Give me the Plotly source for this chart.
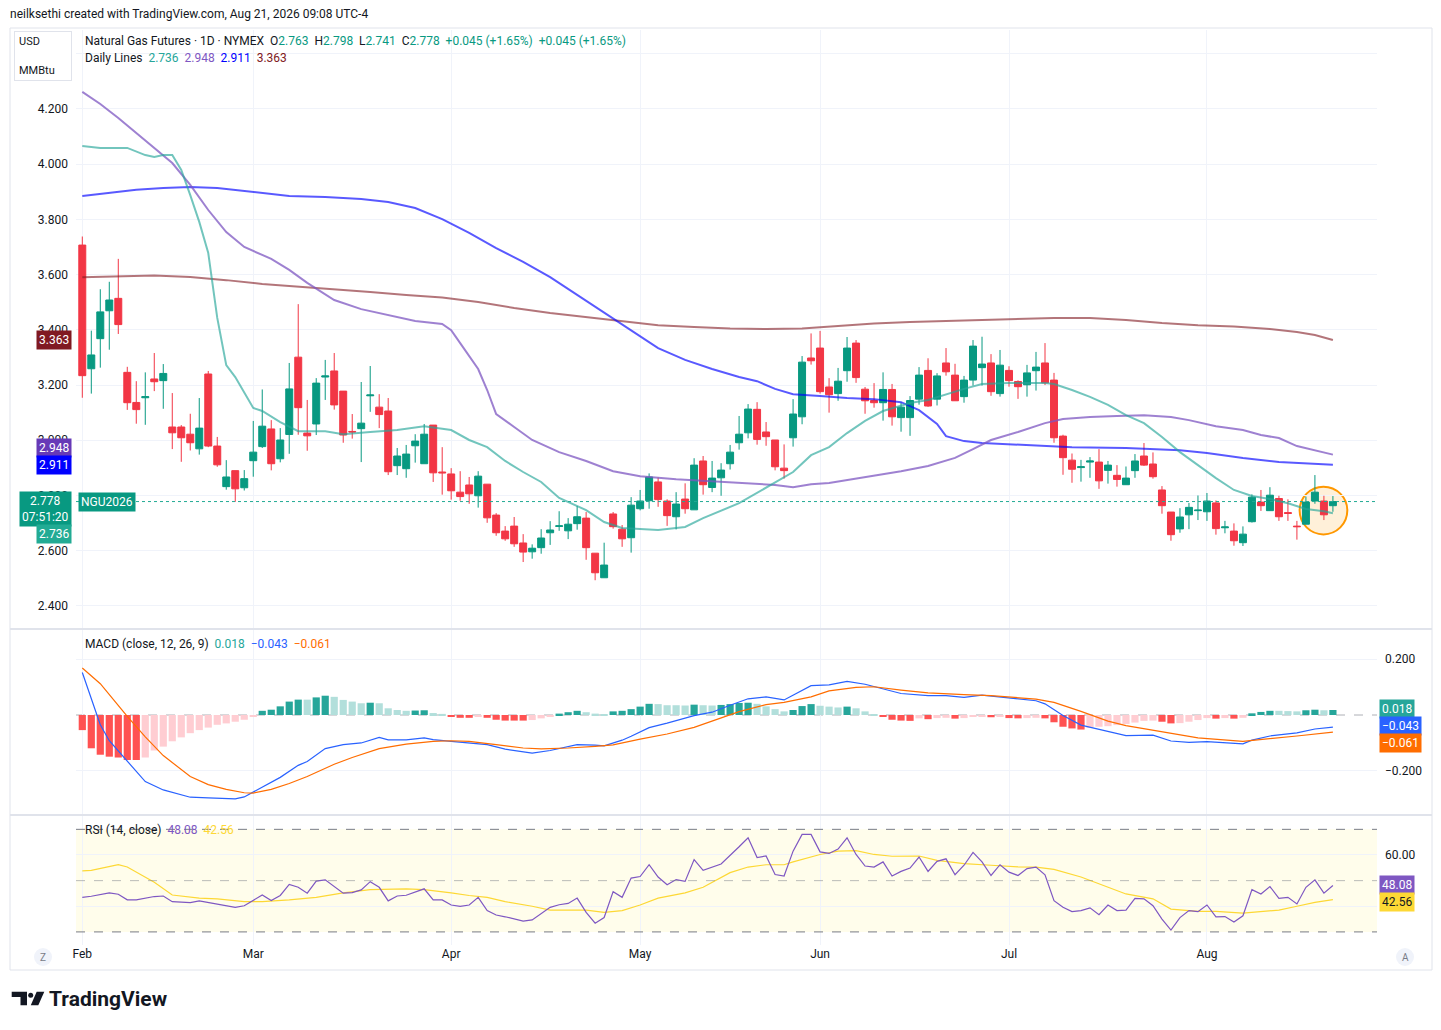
# Natural Gas Futures (NGU2026) daily chart with MAs, MACD and RSI, TradingView style
import plotly.graph_objects as go
import pandas as pd

# Trading days shown (weekends and NYMEX holidays skipped)
holidays = ["2026-02-16", "2026-04-03", "2026-05-25", "2026-06-19", "2026-07-03"]
dates = [d.strftime("%Y-%m-%d") for d in pd.bdate_range("2026-02-02", "2026-08-21", freq="C", holidays=holidays)]

month_ticks = ["2026-02-02", "2026-03-02", "2026-04-01", "2026-05-01", "2026-06-01", "2026-07-01", "2026-08-03"]
month_labels = ["Feb", "Mar", "Apr", "May", "Jun", "Jul", "Aug"]

# OHLC
opens = [3.707, 3.259, 3.368, 3.469, 3.514, 3.246, 3.137, 3.154, 3.222, 3.216,
         3.048, 3.048, 3.022, 2.969, 3.240, 2.979, 2.832, 2.890, 2.828, 2.926,
         2.977, 3.041, 2.933, 3.021, 3.301, 3.026, 3.059, 3.229, 3.251, 3.178,
         3.032, 3.042, 3.161, 3.120, 3.106, 2.908, 2.897, 2.980, 2.915, 3.055,
         2.885, 2.878, 2.812, 2.838, 2.799, 2.841, 2.729, 2.671, 2.689, 2.628,
         2.596, 2.611, 2.665, 2.688, 2.672, 2.698, 2.718, 2.591, 2.502, 2.733,
         2.678, 2.647, 2.752, 2.781, 2.849, 2.780, 2.723, 2.787, 2.748, 2.925,
         2.829, 2.864, 2.915, 2.991, 3.027, 3.112, 3.030, 3.001, 2.899, 3.009,
         3.085, 3.298, 3.334, 3.193, 3.169, 3.252, 3.352, 3.185, 3.144, 3.136,
         3.184, 3.082, 3.082, 3.149, 3.253, 3.149, 3.280, 3.236, 3.158, 3.218,
         3.263, 3.280, 3.169, 3.253, 3.213, 3.201, 3.252, 3.280, 3.218, 3.015,
         2.928, 2.901, 2.921, 2.921, 2.891, 2.873, 2.839, 2.890, 2.943, 2.914,
         2.820, 2.740, 2.679, 2.730, 2.745, 2.741, 2.773, 2.683, 2.671, 2.629,
         2.705, 2.776, 2.745, 2.789, 2.738, 2.689, 2.696, 2.780, 2.780, 2.763]
highs = [3.738, 3.397, 3.547, 3.574, 3.657, 3.266, 3.214, 3.246, 3.316, 3.276,
         3.171, 3.055, 3.096, 3.153, 3.251, 3.012, 2.928, 2.890, 2.892, 3.070,
         3.184, 3.073, 3.044, 3.280, 3.493, 3.146, 3.225, 3.291, 3.316, 3.178,
         3.095, 3.211, 3.269, 3.167, 3.153, 2.972, 2.983, 3.022, 3.059, 3.055,
         2.975, 2.899, 2.888, 2.867, 2.888, 2.841, 2.736, 2.689, 2.722, 2.660,
         2.623, 2.678, 2.707, 2.743, 2.718, 2.762, 2.740, 2.591, 2.629, 2.740,
         2.693, 2.794, 2.820, 2.880, 2.865, 2.786, 2.812, 2.844, 2.935, 2.943,
         2.925, 2.917, 2.983, 3.088, 3.131, 3.138, 3.066, 3.001, 2.985, 3.149,
         3.305, 3.387, 3.396, 3.225, 3.262, 3.374, 3.363, 3.193, 3.207, 3.246,
         3.204, 3.137, 3.160, 3.265, 3.297, 3.243, 3.334, 3.277, 3.233, 3.363,
         3.375, 3.312, 3.327, 3.268, 3.217, 3.273, 3.320, 3.352, 3.244, 3.020,
         2.952, 2.929, 2.939, 2.968, 2.925, 2.910, 2.905, 2.950, 2.990, 2.956,
         2.834, 2.740, 2.754, 2.773, 2.800, 2.809, 2.782, 2.708, 2.699, 2.688,
         2.804, 2.820, 2.830, 2.799, 2.786, 2.708, 2.796, 2.874, 2.799, 2.798]
lows = [3.154, 3.169, 3.263, 3.328, 3.385, 3.110, 3.060, 3.056, 3.178, 3.114,
        2.968, 2.922, 2.963, 2.948, 2.975, 2.904, 2.821, 2.777, 2.818, 2.868,
        2.972, 2.891, 2.920, 2.951, 3.020, 2.962, 3.019, 3.146, 3.111, 2.991,
        3.006, 2.921, 3.103, 3.044, 2.874, 2.874, 2.864, 2.919, 2.915, 2.849,
        2.803, 2.785, 2.781, 2.770, 2.756, 2.701, 2.654, 2.636, 2.614, 2.559,
        2.571, 2.589, 2.621, 2.672, 2.642, 2.676, 2.567, 2.493, 2.502, 2.680,
        2.614, 2.593, 2.746, 2.752, 2.759, 2.690, 2.677, 2.734, 2.748, 2.803,
        2.812, 2.799, 2.894, 2.966, 3.007, 2.984, 2.980, 2.891, 2.861, 2.977,
        3.058, 3.274, 3.169, 3.100, 3.143, 3.212, 3.208, 3.096, 3.118, 3.071,
        3.053, 3.031, 3.016, 3.129, 3.121, 3.126, 3.234, 3.143, 3.136, 3.198,
        3.198, 3.161, 3.158, 3.194, 3.150, 3.158, 3.180, 3.200, 2.991, 2.875,
        2.846, 2.850, 2.864, 2.824, 2.843, 2.832, 2.839, 2.864, 2.907, 2.861,
        2.734, 2.636, 2.665, 2.678, 2.711, 2.708, 2.658, 2.663, 2.618, 2.617,
        2.702, 2.744, 2.744, 2.708, 2.708, 2.640, 2.696, 2.770, 2.711, 2.741]
closes = [3.234, 3.309, 3.465, 3.508, 3.419, 3.136, 3.111, 3.158, 3.212, 3.242,
          3.027, 3.009, 2.991, 3.044, 2.979, 2.911, 2.867, 2.824, 2.861, 2.957,
          3.051, 2.915, 3.001, 3.186, 3.118, 3.016, 3.207, 3.233, 3.128, 3.019,
          3.030, 3.062, 3.164, 3.093, 2.886, 2.943, 2.950, 2.997, 3.022, 2.882,
          2.882, 2.817, 2.796, 2.806, 2.870, 2.719, 2.665, 2.643, 2.625, 2.595,
          2.609, 2.646, 2.675, 2.690, 2.696, 2.723, 2.611, 2.520, 2.548, 2.687,
          2.643, 2.765, 2.780, 2.867, 2.785, 2.727, 2.769, 2.752, 2.910, 2.839,
          2.863, 2.892, 2.957, 3.022, 3.113, 3.003, 3.013, 2.904, 2.890, 3.095,
          3.283, 3.288, 3.176, 3.165, 3.214, 3.334, 3.227, 3.143, 3.136, 3.184,
          3.085, 3.120, 3.144, 3.236, 3.124, 3.233, 3.248, 3.143, 3.218, 3.341,
          3.276, 3.176, 3.272, 3.216, 3.194, 3.244, 3.265, 3.208, 3.009, 2.937,
          2.895, 2.904, 2.925, 2.853, 2.910, 2.858, 2.863, 2.925, 2.910, 2.868,
          2.763, 2.658, 2.722, 2.757, 2.747, 2.780, 2.680, 2.686, 2.636, 2.660,
          2.794, 2.763, 2.801, 2.723, 2.735, 2.687, 2.776, 2.812, 2.730, 2.778]

# Daily moving-average lines (bar index -> value)
ma_fast_at = [0, 2, 5, 7, 8, 9, 10, 11, 12, 13, 14, 15, 16, 17, 19, 20, 22, 24, 27, 29, 32, 35, 38, 41,
              43, 45, 47, 49, 51, 53, 56, 58, 60, 62, 64, 67, 69, 73, 75, 77, 79, 81, 83, 85, 87, 89,
              92, 94, 96, 98, 100, 103, 107, 108, 110, 112, 114, 116, 118, 120, 122, 124, 126, 128,
              130, 132, 134, 136, 138, 139]
ma_fast = [4.066, 4.059, 4.059, 4.033, 4.026, 4.033, 4.033, 3.979, 3.888, 3.791, 3.678, 3.443, 3.272,
           3.229, 3.117, 3.106, 3.066, 3.033, 3.033, 3.022, 3.030, 3.037, 3.051, 3.037, 3.001, 2.975,
           2.925, 2.885, 2.849, 2.791, 2.747, 2.704, 2.682, 2.678, 2.675, 2.686, 2.718, 2.772, 2.809,
           2.845, 2.885, 2.946, 2.975, 3.026, 3.070, 3.106, 3.135, 3.146, 3.167, 3.186, 3.204, 3.207,
           3.207, 3.204, 3.182, 3.157, 3.128, 3.091, 3.062, 3.012, 2.957, 2.910, 2.863, 2.820, 2.798,
           2.787, 2.772, 2.751, 2.743, 2.736]
ma_mid_at = [0, 2, 4, 6, 8, 10, 12, 14, 16, 18, 21, 23, 25, 28, 31, 34, 37, 40, 41, 42, 44, 45, 46, 48,
             50, 53, 56, 59, 62, 66, 70, 73, 77, 79, 81, 83, 85, 88, 91, 94, 97, 99, 101, 104, 107,
             109, 112, 115, 118, 121, 123, 126, 129, 131, 133, 135, 137, 139]
ma_mid = [4.262, 4.218, 4.167, 4.113, 4.059, 4.004, 3.925, 3.834, 3.754, 3.700, 3.657, 3.617, 3.570,
          3.508, 3.475, 3.454, 3.432, 3.421, 3.399, 3.352, 3.258, 3.182, 3.095, 3.048, 3.001, 2.957,
          2.925, 2.888, 2.870, 2.859, 2.852, 2.845, 2.838, 2.830, 2.841, 2.845, 2.856, 2.870, 2.888,
          2.907, 2.936, 2.968, 3.001, 3.030, 3.062, 3.077, 3.084, 3.088, 3.091, 3.084, 3.073, 3.051,
          3.037, 3.019, 3.008, 2.979, 2.964, 2.948]
ma_slow_at = [0, 3, 6, 9, 12, 15, 19, 23, 27, 31, 34, 37, 40, 43, 46, 49, 52, 55, 58, 61, 64, 67, 70,
              73, 75, 77, 79, 82, 85, 88, 91, 93, 95, 96, 98, 100, 104, 110, 116, 122, 125, 129, 133,
              137, 139]
ma_slow = [3.885, 3.896, 3.907, 3.914, 3.917, 3.914, 3.899, 3.885, 3.881, 3.874, 3.863, 3.841, 3.801,
           3.751, 3.696, 3.646, 3.591, 3.526, 3.464, 3.399, 3.334, 3.291, 3.258, 3.229, 3.214, 3.186,
           3.167, 3.160, 3.153, 3.149, 3.138, 3.109, 3.059, 3.015, 2.997, 2.990, 2.983, 2.975, 2.972,
           2.964, 2.954, 2.936, 2.921, 2.914, 2.911]
ma_long_at = [0, 4, 8, 12, 16, 20, 24, 28, 32, 36, 40, 44, 48, 52, 56, 60, 64, 68, 72, 76, 80, 84, 88,
              92, 96, 100, 104, 108, 112, 116, 120, 124, 128, 132, 135, 137, 139]
ma_long = [3.590, 3.593, 3.597, 3.591, 3.580, 3.566, 3.557, 3.548, 3.537, 3.526, 3.517, 3.501, 3.479,
           3.461, 3.446, 3.432, 3.417, 3.410, 3.405, 3.403, 3.405, 3.414, 3.423, 3.428, 3.432, 3.436,
           3.439, 3.443, 3.443, 3.436, 3.425, 3.417, 3.412, 3.403, 3.392, 3.381, 3.363]

# MACD (12, 26, 9)
macd_hist = [-0.054, -0.119, -0.142, -0.149, -0.152, -0.161, -0.161, -0.152, -0.127, -0.113,
             -0.094, -0.080, -0.065, -0.054, -0.045, -0.035, -0.030, -0.024, -0.017, -0.005,
             0.015, 0.019, 0.031, 0.048, 0.055, 0.055, 0.063, 0.069, 0.065, 0.054,
             0.048, 0.042, 0.044, 0.042, 0.024, 0.018, 0.015, 0.016, 0.017, 0.007,
             0.004, -0.006, -0.010, -0.010, -0.005, -0.010, -0.017, -0.020, -0.020, -0.020,
             -0.018, -0.012, -0.006, 0.005, 0.010, 0.015, 0.010, 0.005, 0.002, 0.013,
             0.015, 0.021, 0.030, 0.040, 0.039, 0.035, 0.035, 0.034, 0.037, 0.035,
             0.034, 0.036, 0.039, 0.043, 0.044, 0.040, 0.031, 0.021, 0.013, 0.018,
             0.032, 0.039, 0.033, 0.030, 0.027, 0.030, 0.024, 0.013, 0.002, -0.006,
             -0.017, -0.020, -0.021, -0.012, -0.015, -0.011, -0.010, -0.013, -0.011, -0.007,
             -0.004, -0.008, -0.007, -0.011, -0.012, -0.011, -0.010, -0.012, -0.026, -0.042,
             -0.048, -0.052, -0.046, -0.042, -0.040, -0.036, -0.032, -0.027, -0.021, -0.020,
             -0.024, -0.030, -0.029, -0.024, -0.018, -0.011, -0.013, -0.011, -0.013, -0.010,
             0.006, 0.011, 0.015, 0.015, 0.014, 0.013, 0.017, 0.019, 0.017, 0.018]
macd_at = [0, 1, 2, 3, 5, 6, 7, 9, 12, 14, 17, 18, 19, 21, 22, 24, 25, 27, 29, 31, 33, 34, 36, 38, 39,
           41, 43, 45, 47, 50, 52, 55, 57, 58, 60, 61, 63, 65, 68, 70, 72, 74, 76, 78, 81, 83, 85, 87,
           91, 94, 96, 98, 100, 103, 106, 107, 108, 109, 111, 114, 116, 119, 121, 123, 125, 129, 130,
           132, 135, 137, 139]
macd_line = [0.152, 0.060, -0.035, -0.092, -0.165, -0.199, -0.238, -0.268, -0.294, -0.296, -0.300,
             -0.293, -0.276, -0.240, -0.223, -0.180, -0.166, -0.120, -0.106, -0.100, -0.080, -0.089,
             -0.089, -0.082, -0.088, -0.094, -0.100, -0.106, -0.122, -0.136, -0.127, -0.106, -0.108,
             -0.110, -0.090, -0.076, -0.045, -0.029, -0.002, 0.010, 0.035, 0.058, 0.065, 0.054, 0.105,
             0.108, 0.120, 0.110, 0.077, 0.069, 0.069, 0.063, 0.071, 0.061, 0.051, 0.040, 0.020,
             -0.002, -0.036, -0.058, -0.074, -0.072, -0.093, -0.098, -0.095, -0.103, -0.090, -0.075,
             -0.064, -0.050, -0.043]
signal_at = [0, 2, 5, 7, 9, 12, 14, 16, 18, 19, 21, 23, 25, 28, 30, 33, 36, 39, 41, 43, 46, 49, 51, 54,
             57, 59, 62, 65, 68, 71, 73, 76, 78, 81, 83, 86, 88, 91, 94, 98, 101, 106, 108, 111, 114,
             116, 119, 124, 129, 131, 135, 139]
signal_line = [0.168, 0.112, -0.005, -0.078, -0.145, -0.220, -0.249, -0.266, -0.278, -0.279, -0.266,
               -0.245, -0.220, -0.176, -0.152, -0.120, -0.104, -0.094, -0.092, -0.094, -0.106, -0.118,
               -0.121, -0.118, -0.112, -0.107, -0.086, -0.068, -0.044, -0.012, 0.012, 0.037, 0.045,
               0.065, 0.086, 0.099, 0.101, 0.089, 0.079, 0.073, 0.069, 0.057, 0.045, 0.013, -0.022,
               -0.038, -0.054, -0.082, -0.094, -0.088, -0.075, -0.061]

# RSI (14) and its moving average
rsi_at = [0, 1, 3, 4, 5, 6, 8, 9, 10, 12, 13, 15, 17, 18, 19, 20, 21, 22, 23, 24, 25, 26, 27, 28, 29,
          30, 31, 32, 33, 34, 35, 36, 37, 38, 39, 40, 41, 42, 43, 44, 45, 46, 47, 48, 49, 50, 51, 52,
          53, 54, 55, 56, 57, 58, 59, 60, 61, 62, 63, 64, 65, 66, 67, 68, 69, 70, 71, 73, 74, 75, 76,
          77, 78, 79, 80, 81, 82, 83, 84, 85, 86, 87, 88, 89, 90, 91, 92, 93, 94, 95, 96, 97, 98, 99,
          100, 101, 102, 103, 104, 105, 106, 107, 108, 109, 110, 111, 112, 113, 114, 115, 116, 117,
          118, 119, 120, 121, 122, 123, 124, 125, 126, 127, 128, 129, 130, 131, 132, 133, 134, 135,
          136, 137, 138, 139]
rsi = [43.5, 43.9, 45.2, 44.7, 42.5, 42.5, 43.8, 44.0, 41.8, 41.4, 42.1, 40.9, 39.6, 40.2, 42.2, 44.4,
       42.2, 44.2, 48.5, 47.4, 45.1, 49.8, 50.3, 47.8, 45.1, 45.3, 46.4, 49.6, 47.4, 42.1, 44.0, 44.3,
       45.7, 46.8, 42.5, 42.5, 40.5, 40.0, 40.5, 43.5, 38.3, 36.6, 35.9, 35.0, 34.2, 34.7, 37.3, 39.6,
       40.6, 41.1, 43.2, 37.6, 33.4, 35.6, 45.7, 43.5, 51.0, 51.6, 56.2, 51.4, 48.4, 50.4, 49.7, 58.2,
       54.0, 55.1, 56.5, 63.2, 66.7, 59.0, 59.6, 52.4, 51.8, 61.5, 68.0, 68.0, 61.2, 60.6, 62.3, 66.7,
       60.2, 55.7, 55.3, 57.3, 51.8, 53.6, 54.9, 59.2, 53.6, 57.5, 58.5, 52.3, 56.0, 61.0, 57.3, 52.0,
       56.2, 53.3, 52.0, 54.7, 55.3, 52.3, 42.2, 39.6, 37.9, 38.3, 39.4, 36.7, 40.5, 38.3, 38.5, 43.1,
       42.9, 40.2, 35.0, 30.7, 35.6, 38.3, 37.9, 40.5, 35.9, 36.0, 33.9, 36.3, 46.5, 44.8, 47.7, 43.1,
       43.5, 40.9, 47.4, 50.3, 45.1, 48.08]
rsi_ma_at = [0, 1, 4, 5, 8, 10, 13, 15, 18, 20, 23, 26, 29, 32, 36, 38, 41, 43, 45, 47, 50, 52, 56, 58,
             60, 62, 64, 67, 69, 71, 72, 74, 76, 78, 79, 82, 84, 86, 88, 90, 93, 95, 98, 101, 104, 106,
             108, 111, 114, 116, 119, 121, 124, 126, 129, 133, 135, 137, 139]
rsi_ma = [53.8, 54.0, 56.2, 55.3, 49.4, 44.4, 43.2, 42.9, 41.8, 41.8, 42.5, 43.5, 45.2, 46.5, 46.8, 46.5,
          45.2, 44.2, 43.5, 41.8, 40.0, 38.5, 38.5, 37.6, 38.3, 40.5, 43.2, 45.2, 47.4, 51.0, 53.1, 55.3,
          56.2, 56.2, 57.3, 60.2, 61.5, 61.7, 60.2, 59.5, 59.6, 57.9, 56.6, 56.0, 55.4, 55.3, 54.4, 51.4,
          47.4, 44.8, 42.9, 38.9, 38.0, 38.0, 37.3, 38.5, 40.0, 41.5, 42.56]

# ---- colours / fonts
GREEN = "#089981"
RED = "#f23645"
TEXT = "#131722"
GRID = "#f0f3fa"
BORDER = "#e0e3eb"
FONT = "Roboto"
C_FAST, C_MID, C_SLOW, C_LONG = "rgba(38,166,154,0.65)", "rgba(126,87,194,0.75)", "rgba(0,0,255,0.65)", "rgba(128,25,34,0.6)"
C_MACD, C_SIG = "#2962ff", "#ff6d00"
C_RSI, C_RSI_MA = "#7e57c2", "#fdd835"

# pixel -> paper helpers for the 1441x1030 canvas (plot area 76..1377 x 30..945)
def px(x):
    return (x - 76) / 1301

def py(y):
    return (945 - y) / 915

def pick(at):
    return [dates[i] for i in at]

# histogram colours (TradingView rule: growing/falling above/below zero)
hist_colors = []
prev = 0.02
for h in macd_hist:
    if h >= 0:
        hist_colors.append("#26a69a" if h > prev else "#b2dfdb")
    else:
        hist_colors.append("#ffcdd2" if h > prev else "#ff5252")
    prev = h

fig = go.Figure()

fig.add_trace(go.Candlestick(
    x=dates, open=opens, high=highs, low=lows, close=closes,
    increasing=dict(line=dict(color=GREEN, width=1), fillcolor=GREEN),
    decreasing=dict(line=dict(color=RED, width=1), fillcolor=RED),
    whiskerwidth=0, xaxis="x", yaxis="y", showlegend=False, hoverinfo="skip"))
for at, vals, col in [(ma_long_at, ma_long, C_LONG), (ma_slow_at, ma_slow, C_SLOW),
                      (ma_mid_at, ma_mid, C_MID), (ma_fast_at, ma_fast, C_FAST)]:
    fig.add_trace(go.Scatter(x=pick(at), y=vals, mode="lines", line=dict(color=col, width=2),
                             xaxis="x", yaxis="y", showlegend=False, hoverinfo="skip"))

fig.add_trace(go.Bar(x=dates, y=macd_hist, marker=dict(color=hist_colors, line=dict(width=0)),
                     xaxis="x2", yaxis="y2", showlegend=False, hoverinfo="skip"))
fig.add_trace(go.Scatter(x=pick(macd_at), y=macd_line, mode="lines", line=dict(color=C_MACD, width=1.2),
                         xaxis="x2", yaxis="y2", showlegend=False, hoverinfo="skip"))
fig.add_trace(go.Scatter(x=pick(signal_at), y=signal_line, mode="lines", line=dict(color=C_SIG, width=1.2),
                         xaxis="x2", yaxis="y2", showlegend=False, hoverinfo="skip"))

fig.add_trace(go.Scatter(x=pick(rsi_ma_at), y=rsi_ma, mode="lines", line=dict(color=C_RSI_MA, width=1.2),
                         xaxis="x3", yaxis="y3", showlegend=False, hoverinfo="skip"))
fig.add_trace(go.Scatter(x=pick(rsi_at), y=rsi, mode="lines", line=dict(color=C_RSI, width=1.2),
                         xaxis="x3", yaxis="y3", showlegend=False, hoverinfo="skip"))

xcommon = dict(type="category", categoryorder="array", categoryarray=dates,
               tickvals=month_ticks, ticktext=month_labels, showgrid=True, gridcolor=GRID,
               zeroline=False, showline=False, ticks="", fixedrange=True)
ycommon = dict(showgrid=True, gridcolor=GRID, zeroline=False, showline=False, ticks="",
               tickfont=dict(family=FONT, size=12, color=TEXT), ticklabelstandoff=7)

fig.update_layout(
    width=1441, height=1030,
    margin=dict(l=76, r=64, t=30, b=85),
    paper_bgcolor="white", plot_bgcolor="white",
    font=dict(family=FONT, size=12, color=TEXT),
    boxgap=0.12, boxgroupgap=0.12, bargap=0.2,
    showlegend=False, hovermode=False,
    xaxis=dict(xcommon, anchor="y", range=[-0.7, 143.9], showticklabels=False,
               rangeslider=dict(visible=False)),
    xaxis2=dict(xcommon, anchor="y2", matches="x", showticklabels=False),
    xaxis3=dict(xcommon, anchor="y3", matches="x", showticklabels=True,
                tickfont=dict(family=FONT, size=12, color=TEXT)),
    yaxis=dict(ycommon, domain=[py(628), 1], range=[2.32, 4.486], side="left",
               dtick=0.2, tick0=0, tickformat=".3f", anchor="x"),
    yaxis2=dict(ycommon, domain=[py(814), py(630)], range=[-0.354, 0.304], side="right",
                tickvals=[-0.2, 0.2], tickformat=".3f", anchor="x2"),
    yaxis3=dict(ycommon, domain=[0, py(816)], range=[24.9, 75.2], side="right",
                tickvals=[40, 60], ticktext=["", "60.00"], anchor="x3"),
)

shapes = [
    # outer frame and pane separators
    dict(type="rect", xref="paper", yref="paper", x0=px(10), x1=px(1432), y0=py(970), y1=py(28),
         line=dict(color=BORDER, width=1)),
    dict(type="line", xref="paper", yref="paper", x0=px(10), x1=px(1432), y0=py(629), y1=py(629),
         line=dict(color=BORDER, width=2)),
    dict(type="line", xref="paper", yref="paper", x0=px(10), x1=px(1432), y0=py(815), y1=py(815),
         line=dict(color=BORDER, width=2)),
    # last price line
    dict(type="line", xref="paper", yref="y", x0=0, x1=1, y0=closes[-1], y1=closes[-1],
         line=dict(color="#22ab94", width=1, dash="dot")),
    # highlight circle around the last sessions
    dict(type="circle", xref="x", yref="y", x0=135.3, x1=140.6, y0=2.659, y1=2.832, layer="below",
         line=dict(color="#ff9800", width=2), fillcolor="rgba(255,152,0,0.15)"),
    # MACD zero line
    dict(type="line", xref="paper", yref="y2", x0=0, x1=1, y0=0, y1=0, layer="below",
         line=dict(color="rgba(120,123,134,0.6)", width=1, dash="dash")),
    # RSI band and levels
    dict(type="rect", xref="paper", yref="y3", x0=0, x1=1, y0=30, y1=70, layer="below",
         fillcolor="rgba(255,235,59,0.1)", line=dict(width=0)),
    dict(type="line", xref="paper", yref="y3", x0=0, x1=1, y0=70, y1=70,
         line=dict(color="#787b86", width=1, dash="dash")),
    dict(type="line", xref="paper", yref="y3", x0=0, x1=1, y0=50, y1=50,
         line=dict(color="rgba(120,123,134,0.5)", width=1, dash="dash")),
    dict(type="line", xref="paper", yref="y3", x0=0, x1=1, y0=30, y1=30,
         line=dict(color="#787b86", width=1, dash="dash")),
    # small round buttons at the time axis ends
    dict(type="circle", xref="paper", yref="paper", x0=px(34), x1=px(52), y0=py(966), y1=py(948),
         fillcolor="#f0f3fa", line=dict(width=0)),
    dict(type="circle", xref="paper", yref="paper", x0=px(1396), x1=px(1414), y0=py(966), y1=py(948),
         fillcolor="#f0f3fa", line=dict(width=0)),
]

# TradingView logo, drawn as paths in pixel space
def pth(points):
    return "M " + " L ".join(f"{px(x):.5f},{py(y):.5f}" for x, y in points) + " Z"

shapes += [
    dict(type="path", xref="paper", yref="paper", fillcolor=TEXT, line=dict(width=0),
         path=pth([(11.7, 991.7), (27, 991.7), (27, 1005.3), (20.5, 1005.3), (20.5, 996.9), (11.7, 996.9)])),
    dict(type="circle", xref="paper", yref="paper", fillcolor=TEXT, line=dict(width=0),
         x0=px(28.2), x1=px(33.2), y0=py(997.7), y1=py(992.7)),
    dict(type="path", xref="paper", yref="paper", fillcolor=TEXT, line=dict(width=0),
         path=pth([(36.7, 991.7), (44.3, 991.7), (38.3, 1005.3), (30.8, 1005.3)])),
]
fig.update_layout(shapes=shapes)

def g(v):
    return f"<span style='color:{GREEN}'>{v}</span>"

sp = "\u00a0\u00a0"
head = (f"Natural Gas Futures · 1D · NYMEX{sp}O{g(f'{opens[-1]:.3f}')}{sp}H{g(f'{highs[-1]:.3f}')}"
        f"{sp}L{g(f'{lows[-1]:.3f}')}{sp}C{g(f'{closes[-1]:.3f}')}{sp}"
        f"{g('+0.045 (+1.65%)')}{sp}{g('+0.045 (+1.65%)')}")
lines_txt = (f"Daily Lines{sp}<span style='color:#26a69a'>{ma_fast[-1]:.3f}</span>{sp}"
             f"<span style='color:#7e57c2'>{ma_mid[-1]:.3f}</span>{sp}"
             f"<span style='color:#0000ff'>{ma_slow[-1]:.3f}</span>{sp}"
             f"<span style='color:#801922'>{ma_long[-1]:.3f}</span>")
macd_txt = (f"MACD (close, 12, 26, 9){sp}<span style='color:#26a69a'>{macd_hist[-1]:.3f}</span>{sp}"
            f"<span style='color:{C_MACD}'>−{abs(macd_line[-1]):.3f}</span>{sp}"
            f"<span style='color:{C_SIG}'>−{abs(signal_line[-1]):.3f}</span>")
rsi_txt = (f"RSI (14, close){sp}<span style='color:{C_RSI}'>{rsi[-1]:.2f}</span>{sp}"
           f"<span style='color:{C_RSI_MA}'>{rsi_ma[-1]:.2f}</span>")

def note(x, y, text, size=12, color=TEXT, xanchor="left", bg=None, **kw):
    a = dict(xref="paper", yref="paper", x=px(x), y=py(y), text=text, showarrow=False,
             xanchor=xanchor, yanchor="middle", font=dict(family=FONT, size=size, color=color))
    if bg:
        a.update(bgcolor=bg, borderpad=2)
    a.update(kw)
    return a

annotations = [
    note(8, 14, "neilksethi created with TradingView.com, Aug 21, 2026 09:08 UTC-4", size=12),
    note(14, 56, "USD<br><br>MMBtu", size=11, align="left", bgcolor="white", bordercolor=BORDER,
         borderwidth=1, borderpad=4, width=48, height=40),
    note(83, 41, head, size=12),
    note(83, 58, lines_txt, size=12),
    note(83, 644, macd_txt, size=12),
    note(83, 830, rsi_txt, size=12),
    # left price-scale tags
    note(72, 340, f"{ma_long[-1]:.3f}", size=12, color="white", xanchor="right", bg="#801922"),
    note(72, 448, f"{ma_mid[-1]:.3f}", size=12, color="white", xanchor="right", bg="#673ab7"),
    note(72, 465, f"{ma_slow[-1]:.3f}", size=12, color="white", xanchor="right", bg="#0000ff"),
    note(72, 509, f"{closes[-1]:.3f}<br>07:51:20", size=12, color="white", xanchor="right", bg=GREEN),
    note(72, 534, f"{ma_fast[-1]:.3f}", size=12, color="white", xanchor="right", bg="#22ab94"),
    note(78, 502, "NGU2026", size=12, color="white", bg=GREEN),
    # right scale tags
    note(1379, 709, f"{macd_hist[-1]:.3f}", size=12, color="white", bg="#26a69a"),
    note(1379, 726, f"−{abs(macd_line[-1]):.3f}", size=12, color="white", bg=C_MACD),
    note(1379, 743, f"−{abs(signal_line[-1]):.3f}", size=12, color="white", bg=C_SIG),
    note(1379, 885, f"{rsi[-1]:.2f}", size=12, color="white", bg=C_RSI),
    note(1379, 902, f"{rsi_ma[-1]:.2f}", size=12, color=TEXT, bg=C_RSI_MA),
    # axis buttons and brand
    note(43, 957, "Z", size=10, color="#787b86", xanchor="center"),
    note(1405, 957, "A", size=10, color="#787b86", xanchor="center"),
    note(47, 999, "<b>TradingView</b>", size=21, color=TEXT),
]
fig.update_layout(annotations=annotations)

fig.write_html("out.html", config={"displayModeBar": False},
               post_script="document.body.style.margin='0';document.body.style.overflow='hidden';")
